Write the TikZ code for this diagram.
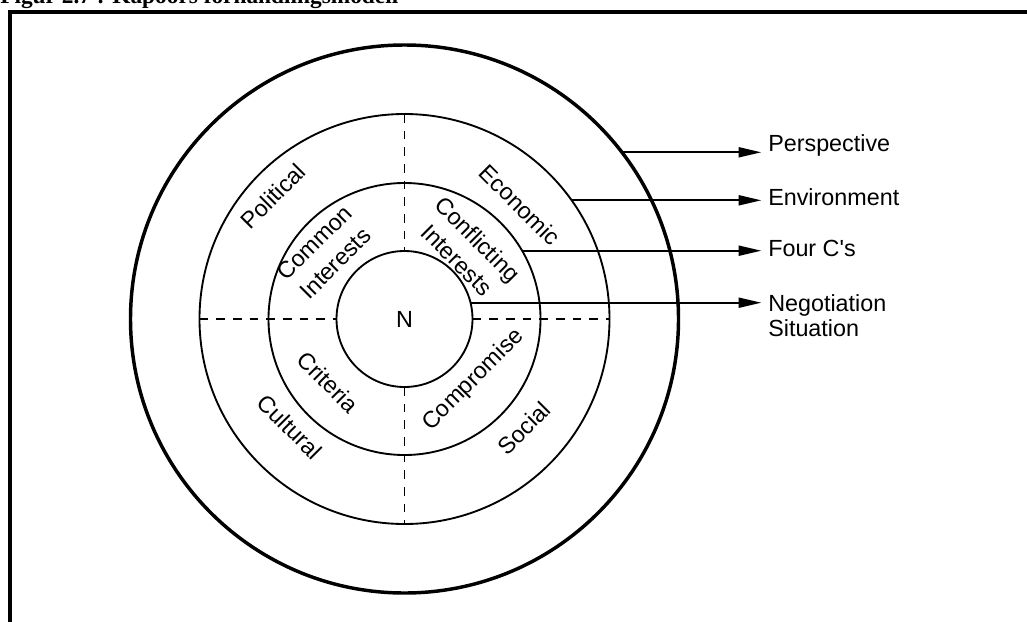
\documentclass[tikz,border=0pt]{standalone}
\usepackage{fontspec}
\setmainfont{Liberation Sans}
\newfontfamily\capfont{Liberation Serif}
\usetikzlibrary{arrows.meta}

\begin{document}
\begin{tikzpicture}[x=0.75pt,y=-0.75pt,
  ring/.style={line width=1.4pt},
  outerring/.style={line width=2.6pt},
  frameline/.style={line width=3pt},
  divider/.style={line width=1.4pt, dash pattern=on 6.5pt off 6pt},
  arr/.style={line width=1.4pt, -{Triangle[length=17pt,width=7.5pt]}, shorten >=5pt},
  lbl/.style={font=\fontsize{17.5}{19.5}\selectfont, inner sep=0pt},
  rotlbl/.style={lbl, align=center, font=\fontsize{17.5}{22}\selectfont}]
  \useasboundingbox (0,0) rectangle (1027,621);
  \clip (0,0) rectangle (1027,621);

  % caption and frame
  \node[anchor=base west, inner sep=0pt, font=\capfont\bfseries\fontsize{17.5}{20}\selectfont]
    (caption) at (0,3.5) {Figur 2.7 : Kapoors forhandlingsmodell};
  \draw[frameline] (10,700) -- (10,12) -- (1100,12);

  % concentric rings
  \coordinate (c) at (404.5,319);
  \draw[outerring] (c) circle[radius=274];
  \draw[ring] (c) circle[radius=205];
  \draw[ring] (c) circle[radius=136];
  \draw[ring] (c) circle[radius=68];
  \node[lbl] (n) at (c) {N};

  % quadrant dividers
  \draw[divider] (199.5,319) -- (336.5,319);
  \draw[divider] (472.5,319) -- (609.5,319);
  \draw[divider] (404.5,114) -- (404.5,251);
  \draw[divider] (404.5,387) -- (404.5,524);

  % environment ring labels
  \node[rotlbl, rotate=45]  (pol) at (273,196) {Political};
  \node[rotlbl, rotate=-45] (eco) at (520,205) {Economic};
  \node[rotlbl, rotate=-45] (cul) at (290,427) {Cultural};
  \node[rotlbl, rotate=45]  (soc) at (524,428) {Social};

  % four C's ring labels
  \node[rotlbl, rotate=45]  (com) at (325,253) {Common\\Interests};
  \node[rotlbl, rotate=-45] (con) at (467.5,249.5) {Conflicting\\Interests};
  \node[rotlbl, rotate=-45] (cri) at (328,382) {Criteria};
  \node[rotlbl, rotate=45]  (cmp) at (473.5,380) {Compromise};

  % legend labels
  \node[lbl, anchor=base west] (lp) at (768,151.7) {Perspective};
  \node[lbl, anchor=base west] (le) at (768,205) {Environment};
  \node[lbl, anchor=base west] (lf) at (768,256.7) {Four C\textquotesingle s};
  \node[lbl, anchor=base west] (ln) at (768,311.7) {Negotiation};
  \node[lbl, anchor=base west] (ls) at (768,336.7) {Situation};

  % leader arrows from each ring
  \coordinate (pp) at (621.9,152.3);
  \coordinate (pe) at (571.6,200.3);
  \coordinate (pf) at (522.1,250.7);
  \coordinate (pn) at (470.5,302.7);
  \draw[arr] (pp) -- (pp -| lp.west);
  \draw[arr] (pe) -- (pe -| le.west);
  \draw[arr] (pf) -- (pf -| lf.west);
  \draw[arr] (pn) -- (pn -| ln.west);
\end{tikzpicture}
\end{document}
